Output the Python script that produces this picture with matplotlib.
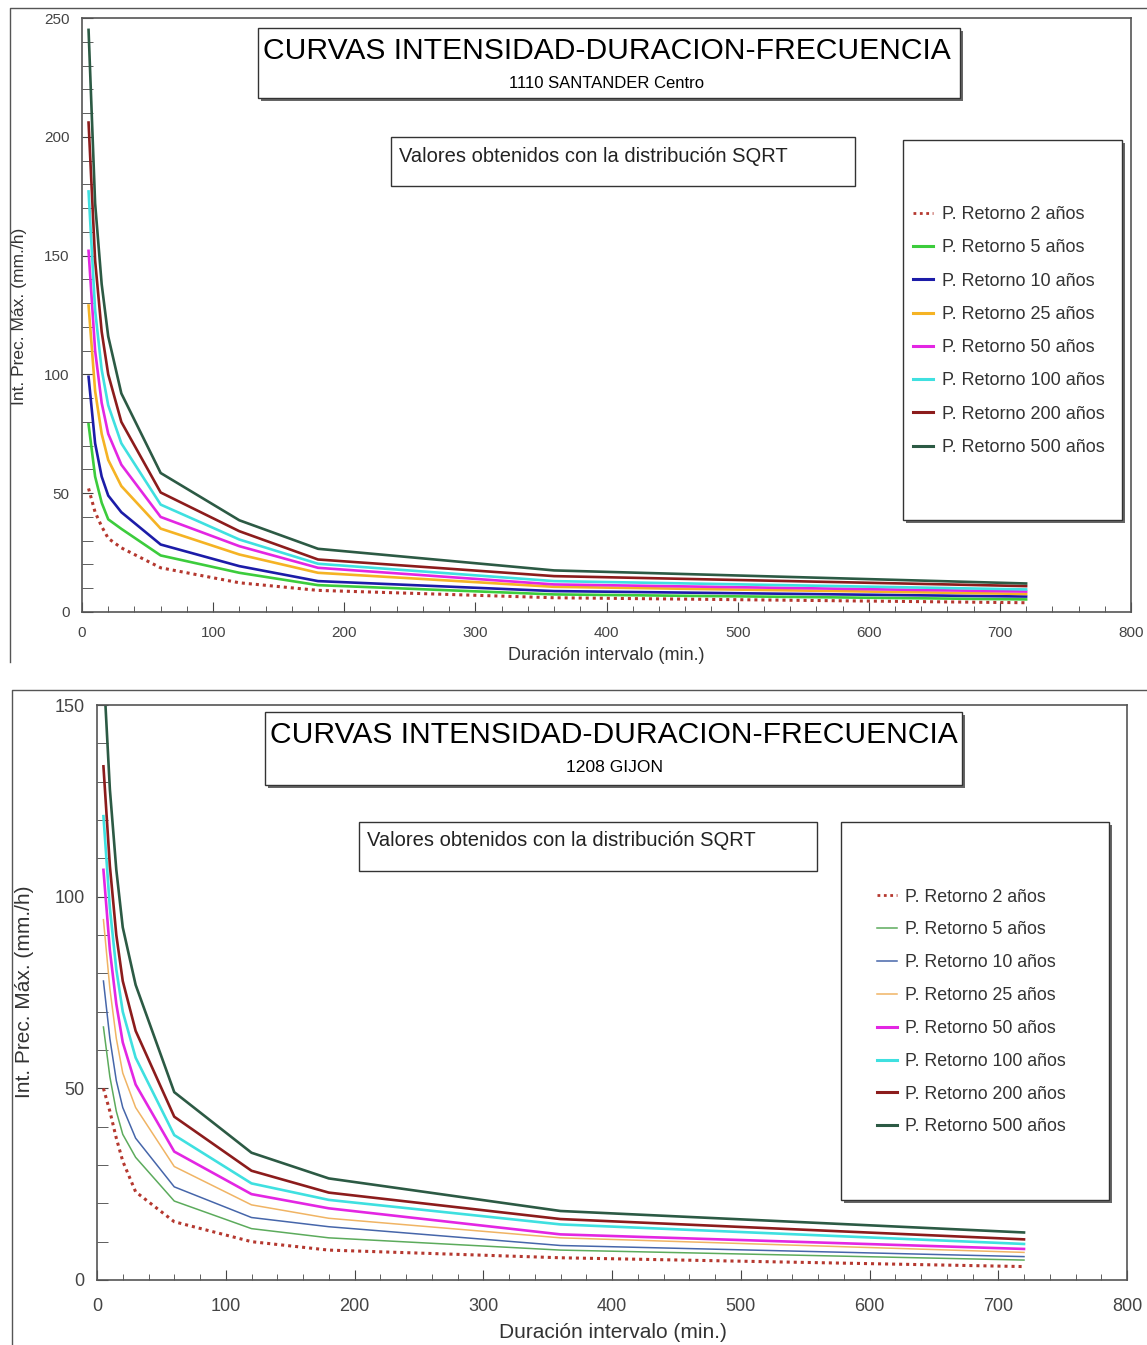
import matplotlib
matplotlib.use("Agg")
import matplotlib.pyplot as plt
from matplotlib.patches import Rectangle
from matplotlib.lines import Line2D
from matplotlib.ticker import MultipleLocator

plt.rcParams['font.family'] = ['Liberation Sans', 'DejaVu Sans']

# Durations (min.) shared by both stations
durations = [5, 10, 15, 20, 30, 60, 120, 180, 360, 720]

# 1110 SANTANDER Centro - intensities (mm/h) per return period
stder_2 = [52, 42, 36, 31, 27, 18.6, 12.3, 9.1, 6.0, 3.9]
stder_5 = [79, 57, 46, 39, 35, 23.8, 16.5, 11.3, 7.4, 5.3]
stder_10 = [99, 71, 57, 49, 42, 28.4, 19.3, 13.0, 8.8, 6.5]
stder_25 = [129, 93, 75, 64, 53, 35.1, 24.2, 16.5, 10.6, 7.6]
stder_50 = [152, 110, 88, 75, 62, 40.0, 27.7, 18.6, 11.6, 8.6]
stder_100 = [177, 127, 102, 87, 71, 45.2, 30.5, 20.3, 13.0, 9.5]
stder_200 = [206, 148, 118, 100, 80, 50.3, 34.0, 22.1, 15.1, 10.9]
stder_500 = [245, 172, 138, 116, 92, 58.5, 38.6, 26.6, 17.5, 12.0]

# 1208 GIJON
gijon_2 = [50, 44, 37, 31, 23, 15.2, 10.0, 7.8, 5.8, 3.5]
gijon_5 = [66, 53, 44, 38, 32, 20.6, 13.4, 11.0, 7.8, 5.2]
gijon_10 = [78, 63, 52, 45, 37, 24.3, 16.3, 13.9, 9.0, 6.1]
gijon_25 = [94, 76, 63, 54, 45, 29.6, 19.6, 16.1, 11.0, 7.2]
gijon_50 = [107, 86, 72, 62, 51, 33.5, 22.4, 18.7, 11.9, 8.1]
gijon_100 = [121, 97, 81, 70, 58, 37.8, 25.2, 20.9, 14.5, 9.4]
gijon_200 = [134, 108, 90, 78, 65, 42.6, 28.5, 22.8, 15.9, 10.6]
gijon_500 = [160, 128, 107, 92, 77, 49.0, 33.2, 26.5, 18.0, 12.4]

labels = ["P. Retorno 2 años", "P. Retorno 5 años", "P. Retorno 10 años",
          "P. Retorno 25 años", "P. Retorno 50 años", "P. Retorno 100 años",
          "P. Retorno 200 años", "P. Retorno 500 años"]

colors_top = ['#b5382f', '#3ccc3c', '#1c1ca8', '#f5b324', '#e326e3', '#3fe0e0', '#8c1c1c', '#2c5a44']
colors_bot = ['#b5382f', '#5cab5c', '#4666aa', '#f0b464', '#e326e3', '#3fe0e0', '#8c1c1c', '#2c5a44']

W, H = 1147, 1345
fig = plt.figure(figsize=(W / 100, H / 100), dpi=100)


def fx(px):
    return px / W


def fy(py):
    return 1 - py / H


def box(x0, y0, x1, y1, shadow=True):
    """Draws a white box (pixel coords, origin top-left) with an optional drop shadow"""
    if shadow:
        fig.add_artist(Rectangle((fx(x0 + 3), fy(y1 + 3)), (x1 - x0) / W, (y1 - y0) / H,
                                 transform=fig.transFigure, facecolor='#666666',
                                 edgecolor='none', zorder=2))
    fig.add_artist(Rectangle((fx(x0), fy(y1)), (x1 - x0) / W, (y1 - y0) / H,
                             transform=fig.transFigure, facecolor='white',
                             edgecolor='#333333', lw=1.0, zorder=2.1))


def frame(x0, y0, y1):
    """Outer frame of a chart: left and top lines"""
    fig.add_artist(Line2D([fx(x0), fx(x0), fx(W)], [fy(y1), fy(y0), fy(y0)],
                          transform=fig.transFigure, color='#555555', lw=1.0))


def draw_panel(rect, series, colors, thin, ymax, fs_tick, xpad):
    ax = fig.add_axes(rect)
    for i, vals in enumerate(series):
        if i == 0:
            ax.plot(durations, vals, color=colors[i], lw=2.2, ls=(0, (1.0, 1.3)))
        else:
            ax.plot(durations, vals, color=colors[i], lw=1.1 if i in thin else 1.9)
    ax.set_xlim(0, 800)
    ax.set_ylim(0, ymax)
    ax.xaxis.set_major_locator(MultipleLocator(100))
    ax.xaxis.set_minor_locator(MultipleLocator(20))
    ax.yaxis.set_major_locator(MultipleLocator(50))
    ax.yaxis.set_minor_locator(MultipleLocator(10))
    ax.tick_params(axis='both', which='both', direction='in', color='#444444',
                   labelcolor='#444444', labelsize=fs_tick)
    ax.tick_params(axis='y', which='both', length=8, pad=9)
    ax.tick_params(axis='x', which='major', length=7, pad=xpad)
    ax.tick_params(axis='x', which='minor', length=4.5)
    for s in ax.spines.values():
        s.set_color('#555555')
        s.set_linewidth(1.2)
    return ax


# ---------- top chart: Santander ----------
frame(10, 8, 662)
draw_panel([fx(82), fy(612), (1131 - 82) / W, (612 - 18) / H],
           [stder_2, stder_5, stder_10, stder_25, stder_50, stder_100, stder_200, stder_500],
           colors_top, [], 250, 11, 10)
fig.text(fx(20), fy(316), "Int. Prec. Máx. (mm./h)", rotation=90, ha='center', va='center',
         fontsize=12.5, color='#333333')
fig.text(fx(606), fy(656), "Duración intervalo (min.)", ha='center', va='center',
         fontsize=13, color='#333333')

box(258, 28, 960, 98)
fig.text(fx(607), fy(51), "CURVAS INTENSIDAD-DURACION-FRECUENCIA", ha='center', va='center',
         fontsize=21.6, zorder=3)
fig.text(fx(607), fy(83), "1110 SANTANDER Centro", ha='center', va='center', fontsize=12, zorder=3)

box(391, 137, 855, 186, shadow=False)
fig.text(fx(399), fy(157), "Valores obtenidos con la distribución SQRT", ha='left', va='center',
         fontsize=14.5, color='#222222', zorder=3)

box(903, 140, 1122, 520)
handles = [Line2D([], [], color=colors_top[0], lw=2.0, ls=(0, (1.0, 1.3)))]
handles += [Line2D([], [], color=c, lw=2.2) for c in colors_top[1:]]
fig.legend(handles, labels, loc='center left', bbox_to_anchor=(fx(913), fy(331)),
           frameon=False, fontsize=13, handlelength=1.1, handletextpad=0.5,
           labelspacing=0.9, borderpad=0, borderaxespad=0, labelcolor='#333333')

# ---------- bottom chart: Gijon ----------
frame(12, 690, H)
draw_panel([fx(97), fy(1280), (1127 - 97) / W, (1280 - 705) / H],
           [gijon_2, gijon_5, gijon_10, gijon_25, gijon_50, gijon_100, gijon_200, gijon_500],
           colors_bot, [1, 2, 3], 150, 13, 13)
fig.text(fx(25), fy(992), "Int. Prec. Máx. (mm./h)", rotation=90, ha='center', va='center',
         fontsize=15, color='#333333')
fig.text(fx(613), fy(1333), "Duración intervalo (min.)", ha='center', va='center',
         fontsize=15, color='#333333')

box(265, 712, 962, 785)
fig.text(fx(614), fy(735), "CURVAS INTENSIDAD-DURACION-FRECUENCIA", ha='center', va='center',
         fontsize=21.6, zorder=3)
fig.text(fx(614), fy(768), "1208 GIJON", ha='center', va='center', fontsize=12.6, zorder=3)

box(359, 822, 817, 871, shadow=False)
fig.text(fx(367), fy(841), "Valores obtenidos con la distribución SQRT", ha='left', va='center',
         fontsize=14.5, color='#222222', zorder=3)

box(841, 822, 1109, 1200)
handles = [Line2D([], [], color=colors_bot[0], lw=2.0, ls=(0, (1.0, 1.3)))]
handles += [Line2D([], [], color=c, lw=1.1 if i in [0, 1, 2] else 2.2)
            for i, c in enumerate(colors_bot[1:])]
fig.legend(handles, labels, loc='center left', bbox_to_anchor=(fx(877), fy(1012)),
           frameon=False, fontsize=12.8, handlelength=1.1, handletextpad=0.45,
           labelspacing=0.89, borderpad=0, borderaxespad=0, labelcolor='#333333')

fig.savefig("out.png", dpi=100)
